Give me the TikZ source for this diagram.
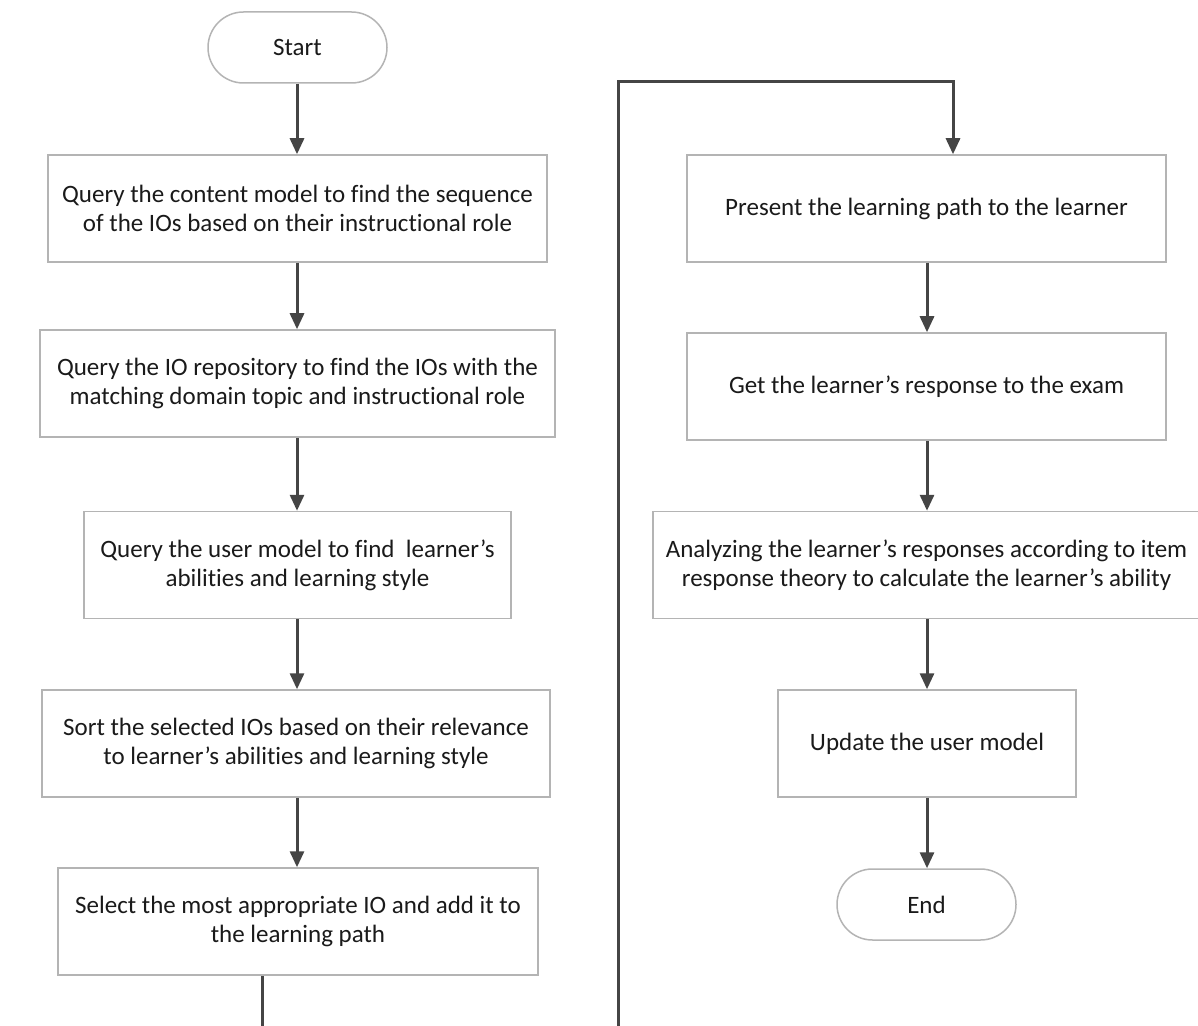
\documentclass[tikz,border=0pt]{standalone}
\usepackage{fontspec}
\setmainfont{Carlito}[Ligatures=NoCommon]
\usetikzlibrary{arrows.meta}
\definecolor{edge}{HTML}{B4B4B4}
\definecolor{wire}{HTML}{454545}
\definecolor{ink}{HTML}{1A1A1A}
\begin{document}
\begin{tikzpicture}[x=0.5pt,y=-0.5pt,
  font=\fontsize{12.5}{14.5}\selectfont,
  every node/.style={text=ink},
  stepbox/.style={draw=edge,line width=0.75pt,fill=white,align=center,
    inner sep=0pt,minimum height=53.5pt},
  term/.style={draw=edge,line width=0.75pt,fill=white,rounded corners=17.75pt,
    minimum width=89.5pt,minimum height=35.5pt,inner sep=0pt},
  flow/.style={draw=wire,line width=1.5pt,
    -{Triangle[length=8pt,width=7pt]}}]
\useasboundingbox[fill=white] (0,0) rectangle (1198,1026);

% left column
\node[term] (start) at (297.5,47.5) {Start};
\node[stepbox,minimum width=249.5pt] (b1) at (297.5,208.5)
  {Query the content model to find the sequence\\of the IOs based on their instructional role};
\node[stepbox,minimum width=257.5pt] (b2) at (297.5,383.5)
  {Query the IO repository to find the IOs with the\\matching domain topic and instructional role};
\node[stepbox,minimum width=213.5pt] (b3) at (297.5,565)
  {Query the user model to find \ learner’s\\abilities and learning style};
\node[stepbox,minimum width=254pt] (b4) at (296,743.5)
  {Sort the selected IOs based on their relevance\\to learner’s abilities and learning style};
\node[stepbox,minimum width=240pt] (b5) at (298,921.5)
  {Select the most appropriate IO and add it to\\the learning path};

% right column
\node[stepbox,minimum width=239.5pt] (r1) at (926.5,208.5)
  {Present the learning path to the learner};
\node[stepbox,minimum width=239.5pt] (r2) at (926.5,386.5)
  {Get the learner’s response to the exam};
\node[stepbox,minimum width=273.5pt] (r3) at (926.5,565)
  {Analyzing the learner’s responses according to item\\response theory to calculate the learner’s ability};
\node[stepbox,minimum width=149pt] (r4) at (927,743.5)
  {Update the user model};
\node[term] (end) at (926.5,904.5) {End};

% vertical flow
\draw[flow] (start.south -| 297,0) -- (b1.north -| 297,0);
\draw[flow] (b1.south -| 297,0) -- (b2.north -| 297,0);
\draw[flow] (b2.south -| 297,0) -- (b3.north -| 297,0);
\draw[flow] (b3.south -| 297,0) -- (b4.north -| 297,0);
\draw[flow] (b4.south -| 297,0) -- (b5.north -| 297,0);
\draw[flow] (r1.south -| 927,0) -- (r2.north -| 927,0);
\draw[flow] (r2.south -| 927,0) -- (r3.north -| 927,0);
\draw[flow] (r3.south -| 927,0) -- (r4.north -| 927,0);
\draw[flow] (r4.south -| 927,0) -- (end.north -| 927,0);

% link between the two columns, routed below the page edge
\coordinate (loopA) at (262,1060);
\coordinate (loopB) at (618,1060);
\coordinate (loopC) at (618,82);
\coordinate (loopD) at (953,82);
\draw[flow,line join=miter] (b5.south -| loopA) -- (loopA) -- (loopB) -- (loopC) -- (loopD) -- (loopD |- r1.north);
\end{tikzpicture}
\end{document}
